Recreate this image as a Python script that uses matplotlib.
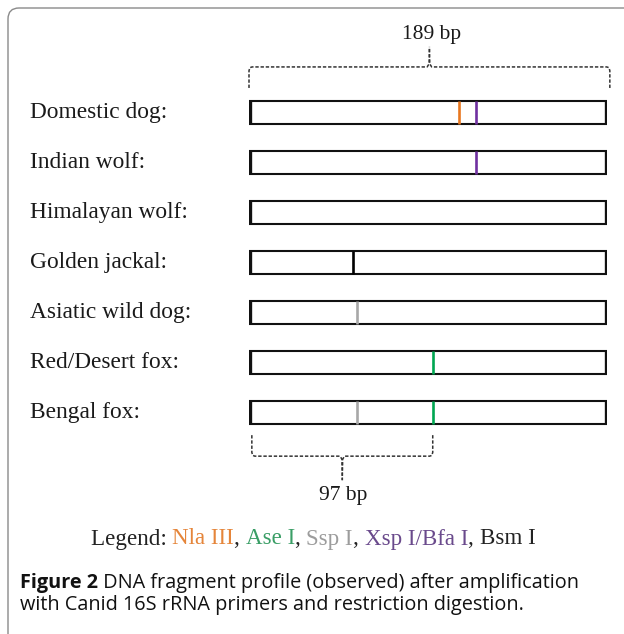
import matplotlib
matplotlib.use("Agg")
import matplotlib.pyplot as plt
from matplotlib.patches import FancyBboxPatch
from matplotlib.offsetbox import TextArea, HPacker, AnchoredOffsetbox
import matplotlib.transforms as mtransforms

# ---------------- data ----------------
species = ["Domestic dog", "Indian wolf", "Himalayan wolf", "Golden jackal",
           "Asiatic wild dog", "Red/Desert fox", "Bengal fox"]
amplicon_bp = 189
marked_fragment_bp = 97

enzyme_names = ["Nla III", "Ase I", "Ssp I", "Xsp I/Bfa I", "Bsm I"]
enzyme_colors = ["#E8771F", "#00A651", "#A8A8A8", "#7030A0", "#000000"]
legend_colors = ["#E5853A", "#3A9E66", "#9C9C9C", "#6A4A8C", "#222222"]

cut_species = ["Domestic dog", "Domestic dog", "Indian wolf", "Golden jackal",
               "Asiatic wild dog", "Red/Desert fox", "Bengal fox", "Bengal fox"]
cut_enzyme = ["Nla III", "Xsp I/Bfa I", "Xsp I/Bfa I", "Bsm I",
              "Ssp I", "Ase I", "Ssp I", "Ase I"]
cut_bp = [111, 120, 120, 55, 57, 97, 57, 97]

caption_bold = "Figure 2"
caption_line1 = " DNA fragment profile (observed) after amplification"
caption_line2 = "with Canid 16S rRNA primers and restriction digestion."

# ---------------- figure ----------------
W, H = 624, 634
fig = plt.figure(figsize=(W / 100, H / 100), dpi=100)
fig.patch.set_facecolor("white")

# background overlay in pixel coordinates (frame + texts)
bg = fig.add_axes([0, 0, 1, 1])
bg.set_xlim(0, W)
bg.set_ylim(H, 0)
bg.axis("off")
frame = FancyBboxPatch((8, 8), 700, 700, boxstyle="round,pad=0,rounding_size=11",
                       facecolor="white", edgecolor="#8a8a8a", linewidth=1.0)
bg.add_patch(frame)

serif = ["Liberation Serif", "DejaVu Serif"]
sans = ["Open Sans", "DejaVu Sans"]

# bars axes
x0_px, x1_px = 249, 607
y_top_px, y_bot_px = 88, 437.5
ax = fig.add_axes([x0_px / W, 1 - y_bot_px / H, (x1_px - x0_px) / W, (y_bot_px - y_top_px) / H])
ax.set_xlim(0, amplicon_bp)
ax.set_ylim(len(species) - 0.5, -0.5)
ax.axis("off")

bar_h = 0.46
ypos = list(range(len(species)))
ax.barh(ypos, [amplicon_bp] * len(species), left=0, height=bar_h,
        facecolor="white", edgecolor="#111111", linewidth=1.5, zorder=2)
for y in ypos:
    ax.vlines([0.5, amplicon_bp - 0.3], y - bar_h / 2, y + bar_h / 2,
              colors="#111111", linewidth=2.4, zorder=3)

for sp, en, bp in zip(cut_species, cut_enzyme, cut_bp):
    y = species.index(sp)
    c = enzyme_colors[enzyme_names.index(en)]
    ax.vlines(bp, y - bar_h / 2, y + bar_h / 2, colors=c, linewidth=1.9, zorder=4)

# species labels
lab_tr = mtransforms.blended_transform_factory(fig.transFigure, ax.transData)
for y, sp in zip(ypos, species):
    ax.text(30 / W, y, sp + ":", transform=lab_tr, ha="left", va="center",
            fontsize=16.8, family=serif, color="#1a1a1a")

# braces
dash = dict(color="#333333", linewidth=1.1, linestyle=(0, (2.2, 1.2)),
            clip_on=False, zorder=3)


def brace(xa, xb, y_end, y_line, y_tip, r=1.6, rv=0.05):
    xm = (xa + xb) / 2
    s = 1 if y_tip < y_line else -1  # direction of tip (up if s=1)
    ax.plot([xa, xa, xa + r * 0.3, xa + r, xm - 1.2, xm - 0.2, xm],
            [y_end, y_line + s * rv * 1.5, y_line + s * rv * 0.3, y_line, y_line,
             y_line - s * rv * 1.2, y_tip], **dash)
    ax.plot([xb, xb, xb - r * 0.3, xb - r, xm + 1.2, xm + 0.2, xm],
            [y_end, y_line + s * rv * 1.5, y_line + s * rv * 0.3, y_line, y_line,
             y_line - s * rv * 1.2, y_tip], **dash)


px = 49.9  # pixels per category row
cy0 = 113
brace(0, amplicon_bp + 1.5, (88 - cy0) / px, (67 - cy0) / px, (47 - cy0) / px)
ax.text(amplicon_bp / 2 + 2, (35 - cy0) / px, f"{amplicon_bp} bp", ha="center",
        va="center", fontsize=15.5, family=serif, color="#1a1a1a")

brace(1.5, marked_fragment_bp, (435 - cy0) / px, (456 - cy0) / px, (480 - cy0) / px)
ax.text(marked_fragment_bp / 2 + 1, (495 - cy0) / px, f"{marked_fragment_bp} bp",
        ha="center", va="center", fontsize=15.5, family=serif, color="#1a1a1a")

# legend line
lfs = 16.6
pieces = [TextArea("Legend: ", textprops=dict(fontsize=lfs, family=serif, color="#222222"))]
for i, (n, c) in enumerate(zip(enzyme_names, legend_colors)):
    pieces.append(TextArea(n, textprops=dict(fontsize=lfs, family=serif, color=c)))
    if i < len(enzyme_names) - 1:
        pieces.append(TextArea(", ", textprops=dict(fontsize=lfs, family=serif, color="#222222")))
leg = AnchoredOffsetbox(loc="center", child=HPacker(children=pieces, sep=0, pad=0, align="baseline"),
                        pad=0, borderpad=0, frameon=False,
                        bbox_to_anchor=(313 / W, 1 - 539 / H), bbox_transform=fig.transFigure)
bg.add_artist(leg)

# caption
cfs = 14.3
cap1 = HPacker(children=[
    TextArea(caption_bold, textprops=dict(fontsize=cfs, family=sans, weight="bold", color="#111111")),
    TextArea(caption_line1, textprops=dict(fontsize=cfs, family=sans, color="#111111")),
], sep=0, pad=0, align="baseline")
c1 = AnchoredOffsetbox(loc="center left", child=cap1, pad=0, borderpad=0, frameon=False,
                       bbox_to_anchor=(20 / W, 1 - 583 / H), bbox_transform=fig.transFigure)
bg.add_artist(c1)
c2 = AnchoredOffsetbox(loc="center left",
                       child=TextArea(caption_line2, textprops=dict(fontsize=cfs, family=sans, color="#111111")),
                       pad=0, borderpad=0, frameon=False,
                       bbox_to_anchor=(20 / W, 1 - 605 / H), bbox_transform=fig.transFigure)
bg.add_artist(c2)

fig.savefig("out.png", dpi=100, facecolor="white")
